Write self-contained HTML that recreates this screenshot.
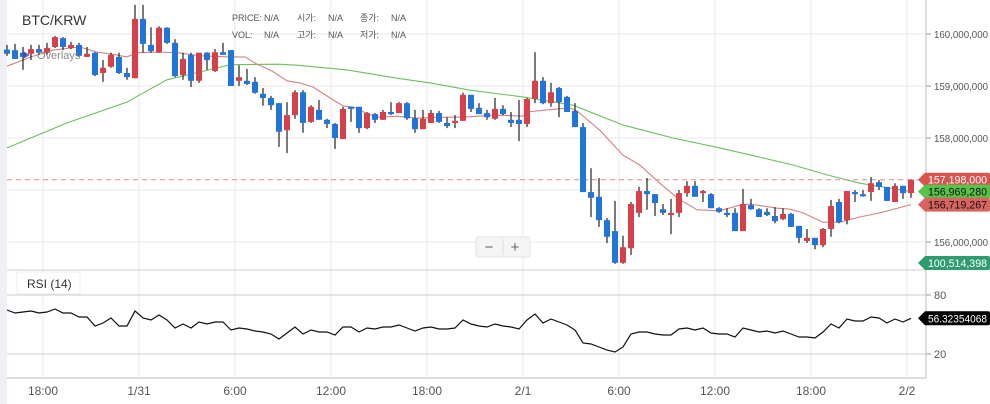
<!DOCTYPE html>
<html><head><meta charset="utf-8"><style>
body{margin:0;background:#fff;width:990px;height:404px;overflow:hidden;font-family:"Liberation Sans","Noto Sans CJK KR",sans-serif}
svg{display:block}
</style></head><body>
<svg id="chart" width="990" height="404" xmlns="http://www.w3.org/2000/svg" font-family="Liberation Sans, Noto Sans CJK KR, sans-serif">
<rect x="0" y="0" width="990" height="404" fill="#fff"/>
<rect x="0" y="0" width="7" height="404" fill="#eef0f3"/>
<g id="grid"></g>
<g id="mas"></g>
<g id="candles"></g>
<g id="rsi"></g>
<g id="axes"></g>
<text x="22" y="25" font-size="14" fill="#333">BTC/KRW</text>
<g font-size="9" fill="#555">
<text x="232" y="21">PRICE:</text><text x="264" y="21">N/A</text>
<text x="297" y="21">시가:</text><text x="328" y="21">N/A</text>
<text x="360" y="21">종가:</text><text x="391" y="21">N/A</text>
<text x="232" y="38">VOL:</text><text x="264" y="38">N/A</text>
<text x="297" y="38">고가:</text><text x="328" y="38">N/A</text>
<text x="360" y="38">저가:</text><text x="391" y="38">N/A</text>
</g>
<g>
<polygon points="23,51 23,59 30,55" fill="#3d4aa8" opacity="0.8"/>
<text x="37" y="59" font-size="11" fill="#777" opacity="0.85">Overlays</text>
</g>
<g>
<rect x="476" y="237" width="54" height="20" rx="2" fill="#f5f5f5" stroke="#e2e2e2"/>
<line x1="503" y1="239" x2="503" y2="255" stroke="#ddd"/>
<text x="489" y="252" font-size="15" fill="#666" text-anchor="middle">−</text>
<text x="515" y="252" font-size="15" fill="#666" text-anchor="middle">+</text>
</g>
<g>
<rect x="17" y="272" width="63" height="22" fill="#fff" stroke="#eee"/>
<text x="27" y="288" font-size="12" fill="#333">RSI (14)</text>
</g>
</svg>
<script>
const open=[159.70,159.69,159.64,159.62,159.71,159.64,159.75,159.92,159.73,159.79,159.56,159.64,159.25,159.37,159.56,159.25,159.15,160.29,159.79,159.65,160.12,159.83,159.21,159.60,159.10,159.64,159.29,159.65,159.69,159.10,159.10,159.08,158.85,158.77,158.67,158.15,158.44,158.88,158.31,158.54,158.35,158.27,157.98,158.60,158.60,158.19,158.46,158.35,158.50,158.48,158.67,158.38,158.17,158.29,158.48,158.29,158.29,158.33,158.83,158.58,158.48,158.37,158.56,158.35,158.35,158.27,158.75,159.10,158.67,158.96,158.79,158.52,158.21,156.96,156.87,156.42,156.21,155.60,155.88,156.56,156.98,156.92,156.63,156.52,156.56,156.94,157.08,156.94,156.92,156.65,156.56,156.56,156.21,156.71,156.63,156.58,156.50,156.44,156.54,156.31,156.02,156.08,155.94,156.25,156.77,156.42,156.96,156.92,156.96,157.15,157.06,156.77,157.08,156.94];
const high=[159.79,159.81,159.75,159.79,159.79,159.83,159.96,159.94,159.85,159.83,159.75,159.65,159.50,159.64,159.64,159.35,160.56,160.56,160.13,160.15,160.13,159.90,159.64,159.64,159.64,159.65,159.71,159.83,159.69,159.40,159.33,159.17,158.96,158.81,158.67,158.69,158.92,158.92,158.63,158.73,158.37,158.29,158.60,158.60,158.60,158.50,158.48,158.54,158.69,158.69,158.69,158.54,158.54,158.54,158.52,158.40,158.44,158.87,158.83,158.67,158.54,158.77,158.63,158.50,158.73,158.77,159.65,159.17,159.06,158.98,158.81,158.67,158.29,157.42,157.23,156.46,156.79,156.12,156.77,157.06,157.23,156.92,156.73,156.83,157.00,157.17,157.17,157.00,156.94,156.67,156.65,156.65,157.02,156.83,156.65,156.65,156.67,156.65,156.56,156.31,156.25,156.08,156.27,156.81,156.83,156.98,157.00,157.00,157.25,157.19,157.06,157.13,157.08,157.198];
const low=[159.58,159.52,159.31,159.50,159.60,159.60,159.73,159.69,159.71,159.56,159.56,159.19,159.08,159.35,159.23,159.12,159.15,159.64,159.64,159.64,159.81,159.17,159.12,158.98,159.06,159.31,159.27,159.60,159.00,159.00,159.02,158.85,158.62,158.54,157.83,157.71,158.37,158.10,158.29,158.35,158.19,157.79,157.98,158.31,158.10,158.17,158.29,158.35,158.44,158.48,158.35,158.10,158.17,158.29,158.29,158.19,158.19,158.33,158.50,158.46,158.35,158.35,158.44,158.21,157.94,158.21,158.67,158.65,158.60,158.40,158.50,158.21,156.96,156.48,156.29,155.98,155.58,155.58,155.75,156.48,156.62,156.50,156.52,156.15,156.48,156.87,156.87,156.77,156.65,156.56,156.48,156.21,156.21,156.62,156.48,156.50,156.36,156.42,156.29,155.98,155.98,155.86,155.90,156.10,156.36,156.34,156.77,156.87,156.79,157.00,156.79,156.77,156.83,156.85];
const close=[159.62,159.52,159.56,159.71,159.64,159.73,159.94,159.75,159.79,159.58,159.62,159.21,159.35,159.60,159.25,159.17,160.29,159.81,159.67,160.12,159.83,159.19,159.52,159.10,159.64,159.50,159.65,159.60,159.00,159.17,159.04,158.87,158.77,158.63,158.12,158.44,158.88,158.29,158.60,158.35,158.27,158.00,158.56,158.56,158.19,158.48,158.35,158.50,158.46,158.67,158.38,158.17,158.37,158.48,158.31,158.23,158.33,158.83,158.56,158.46,158.40,158.56,158.46,158.29,158.27,158.75,159.10,158.67,158.88,158.69,158.50,158.21,156.96,156.85,156.42,156.10,155.60,155.90,156.73,156.98,156.92,156.75,156.56,156.56,156.94,157.08,156.87,156.98,156.65,156.58,156.52,156.21,156.73,156.63,156.48,156.52,156.40,156.54,156.29,156.08,156.08,155.94,156.25,156.69,156.38,156.98,156.92,156.88,157.13,157.06,156.79,157.08,156.94,157.198];
const maShortIdx=[0,3,5.75,9.1,11.25,12.9,15,16.25,19.1,21.25,24.1,27.9,29.75,31.25,33.1,35,36.6,38.25,40.4,42,43.75,45,46.6,48.75,51.25,53.75,57,61,64.5,65,67.5,70.4,71.25,74.1,77,79.1,81.6,83.75,86.25,89.1,91.6,92.9,96.25,97.9,99.5,102,104.1,106.6,109.1,113];
const maShortVal=[159.38,159.56,159.69,159.75,159.65,159.62,159.56,159.64,159.65,159.64,159.58,159.56,159.56,159.42,159.29,159.10,159.06,158.98,158.77,158.62,158.58,158.46,158.40,158.42,158.38,158.40,158.40,158.44,158.42,158.50,158.54,158.58,158.52,158.15,157.67,157.48,157.13,156.85,156.62,156.60,156.71,156.73,156.65,156.63,156.56,156.38,156.38,156.48,156.56,156.719];
const maLongIdx=[0,7.5,15,16.6,20,24.1,27.9,34,36.25,42.5,48.75,52.9,57.9,64.5,70.75,77,83.25,89.1,94.1,98.25,102.5,106.6,113];
const maLongVal=[157.81,158.29,158.69,158.83,159.12,159.27,159.41,159.42,159.40,159.31,159.15,159.06,158.92,158.79,158.63,158.25,158.00,157.81,157.63,157.48,157.29,157.13,156.969];
const rsiVal=[64.7,61.7,62.7,63.7,61.7,62.7,65.8,61.7,61.7,57.6,57.6,48.5,51.5,56.6,48.5,48.5,63.7,56.6,54.6,59.7,54.6,46.4,50.5,46.4,52.5,50.5,52.5,52.5,44.4,46.4,45.4,43.4,42.4,40.3,35.3,41.4,47.5,40.3,44.4,42.4,42.4,39.3,47.5,47.5,42.4,46.4,45.4,47.5,47.5,49.5,46.4,43.4,46.4,47.5,45.4,45.4,46.4,54.6,50.5,48.5,47.5,50.5,48.5,47.5,45.4,54.6,60.7,51.5,55.6,52.5,49.5,44.4,31.2,30.2,27.1,24.0,22.0,27.1,40.3,42.4,42.4,40.3,39.3,39.3,45.4,46.4,44.4,46.4,41.4,40.3,40.3,37.3,46.4,44.4,42.4,43.4,41.4,43.4,40.3,37.3,37.3,36.3,42.4,50.5,46.4,55.6,53.6,53.6,57.6,56.6,51.5,55.6,52.5,56.32];
const priceTicks=[160,159,158,157,156];
const priceTickLabels=["160,000,000","159,000,000","158,000,000","","156,000,000"];
const rsiTicks=[80,20];
const timeHours=[-6,0,6,12,18,24,30,36,42,48];
const timeLabels=["18:00","1/31","6:00","12:00","18:00","2/1","6:00","12:00","18:00","2/2"];
const lastPrice=157.198, maLongLast=156.969280, maShortLast=156.719267, volumeLast="100,514,398", rsiLast=56.32354068;

const NS="http://www.w3.org/2000/svg";
const X0=7, XR=926;
function xC(k){return 7+8*k;}
function yP(p){return 34+(160-p)*52;}
function yR(v){return 295+(80-v)*59/60;}
function xT(h){return 139+16*h;}
function mk(tag,attrs,parent){const e=document.createElementNS(NS,tag);for(const a in attrs)e.setAttribute(a,attrs[a]);parent.appendChild(e);return e;}
const grid=document.getElementById('grid'),cg=document.getElementById('candles'),mg=document.getElementById('mas'),rg=document.getElementById('rsi'),ax=document.getElementById('axes');

timeHours.forEach((h,i)=>{
  const l=mk('line',{x1:xT(h),x2:xT(h),y1:0,y2:378,stroke:'#e8e8e8'},grid);
  
  
  const t=mk('text',{x:xT(h),y:395,'font-size':12,fill:'#555','text-anchor':'middle'},ax);
  t.textContent=timeLabels[i];
  
  
});
priceTicks.forEach((p,i)=>{
  const l=mk('line',{x1:X0,x2:XR,y1:yP(p),y2:yP(p),stroke:'#e8e8e8'},grid);
  
  
  mk('line',{x1:XR,x2:XR+5,y1:yP(p),y2:yP(p),stroke:'#999'},ax);
  if(priceTickLabels[i]){const t=mk('text',{x:934,y:yP(p)+4,'font-size':10.5,fill:'#555',textLength:54,lengthAdjust:'spacingAndGlyphs'},ax);t.textContent=priceTickLabels[i];
  
  }
});
rsiTicks.forEach(v=>{
  const l=mk('line',{x1:X0,x2:XR,y1:yR(v),y2:yR(v),stroke:'#cfcfcf'},grid);
  
  
  mk('line',{x1:XR,x2:XR+5,y1:yR(v),y2:yR(v),stroke:'#999'},ax);
  const t=mk('text',{x:934,y:yR(v)+4,'font-size':11,fill:'#555'},ax);t.textContent=v;
  
  
});
mk('line',{x1:X0,x2:XR,y1:270,y2:270,stroke:'#cfcfcf'},ax);
mk('line',{x1:X0,x2:XR,y1:378,y2:378,stroke:'#bbb'},ax);
mk('line',{x1:XR,x2:XR,y1:0,y2:378,stroke:'#bbb'},ax);

function poly(idx,vals,color,name){
  const pts=idx.map((k,i)=>xC(k)+','+yP(vals[i]).toFixed(1)).join(' ');
  const p=mk('polyline',{points:pts,fill:'none',stroke:color,'stroke-width':1.1},mg);
  
  
}
poly(maLongIdx,maLongVal,'#6cc05c','ma-long-line');
poly(maShortIdx,maShortVal,'#d38383','ma-short-line');

open.forEach((o,k)=>{
  const c=close[k],up=c>=o,col=up?'#d6404a':'#2175d9';
  const g=mk('g',{},cg);
  
  
  mk('line',{x1:xC(k),x2:xC(k),y1:yP(high[k]),y2:yP(low[k]),stroke:'#222','stroke-width':1.2},g);
  const top=yP(Math.max(o,c)),bot=yP(Math.min(o,c));
  mk('rect',{x:xC(k)-3,y:top,width:6,height:Math.max(1.5,bot-top),fill:col},g);
});

const rp=rsiVal.map((v,k)=>xC(k)+','+yR(v).toFixed(1)).join(' ');
const rl=mk('polyline',{points:rp,fill:'none',stroke:'#111','stroke-width':1.2},rg);



const dl=mk('line',{x1:X0,x2:XR,y1:yP(lastPrice),y2:yP(lastPrice),stroke:'#e08a8a','stroke-dasharray':'5,4'},mg);



function tag(y,txt,bg,fg,name){
  const g=mk('g',{},ax);
  
  
  mk('path',{d:`M918 ${y} L925 ${y-7} L988 ${y-7} Q990 ${y-7} 990 ${y-5} L990 ${y+5} Q990 ${y+7} 988 ${y+7} L925 ${y+7} Z`,fill:bg},g);
  const t=mk('text',{x:928,y:y+4,'font-size':11,fill:fg,textLength:59,lengthAdjust:'spacingAndGlyphs'},g);t.textContent=txt;
}
function fmt(p){return Math.round(p*1e6).toLocaleString('en-US');}
tag(yP(lastPrice),fmt(lastPrice),'#d9534f','#fff','last-price-tag');
tag(yP(maLongLast),fmt(maLongLast),'#58c34a','#111','ma-long-tag');
tag(yP(maShortLast),fmt(maShortLast),'#d9645f','#111','ma-short-tag');
tag(263,volumeLast,'#2f9c70','#fff','volume-tag');
tag(yR(rsiLast),rsiLast.toString(),'#000','#fff','rsi-value-tag');
</script>
</body></html>
